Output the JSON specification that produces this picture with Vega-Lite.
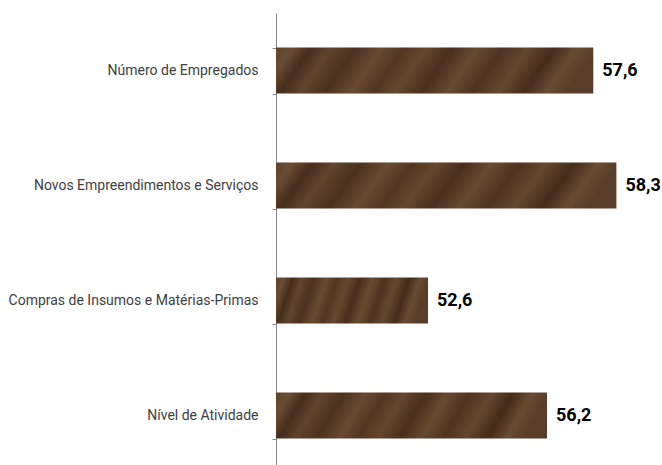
{
  "$schema": "https://vega.github.io/schema/vega-lite/v6.json",
  "autosize": {"type": "none"},
  "width": 386,
  "height": 452,
  "padding": {"left": 276, "top": 13, "right": 0, "bottom": 0},
  "background": "white",
  "config": {
    "view": {"stroke": null},
    "locale": {"number": {"decimal": ",", "thousands": ".", "grouping": [3], "currency": ["R$", ""]}}
  },
  "data": {
    "values": [
      {"categoria": "Número de Empregados", "valor": 57.6},
      {"categoria": "Novos Empreendimentos e Serviços", "valor": 58.3},
      {"categoria": "Compras de Insumos e Matérias-Primas", "valor": 52.6},
      {"categoria": "Nível de Atividade", "valor": 56.2}
    ]
  },
  "encoding": {
    "y": {
      "field": "categoria",
      "type": "nominal",
      "sort": null,
      "title": null,
      "scale": {"range": [0, 460], "paddingInner": 0.6, "paddingOuter": 0.3},
      "axis": {
        "tickBand": "extent",
        "domainColor": "#868686",
        "tickColor": "#868686",
        "tickSize": 4,
        "labelPadding": 14,
        "labelFont": "Roboto, sans-serif",
        "labelFontSize": 14,
        "labelColor": "#404040",
        "labelLimit": 300
      }
    }
  },
  "layer": [
    {
      "mark": {
        "type": "bar",
        "fill": {
          "gradient": "linear",
          "x1": 0, "y1": 0, "x2": 1, "y2": 0.1,
          "stops": [
            {"offset": 0, "color": "#5e412b"},
            {"offset": 0.05, "color": "#6a4d34"},
            {"offset": 0.11, "color": "#482c1b"},
            {"offset": 0.17, "color": "#61442d"},
            {"offset": 0.25, "color": "#4c311e"},
            {"offset": 0.33, "color": "#684a32"},
            {"offset": 0.4, "color": "#533622"},
            {"offset": 0.47, "color": "#65472e"},
            {"offset": 0.55, "color": "#4a2e1c"},
            {"offset": 0.63, "color": "#674a31"},
            {"offset": 0.71, "color": "#4f3320"},
            {"offset": 0.79, "color": "#64472e"},
            {"offset": 0.87, "color": "#462b1a"},
            {"offset": 0.94, "color": "#684b32"},
            {"offset": 1, "color": "#5a3d28"}
          ]
        }
      },
      "encoding": {
        "x": {"field": "valor", "type": "quantitative", "scale": {"domain": [48, 59.68], "zero": false, "nice": false}, "axis": null},
        "x2": {"datum": 48}
      }
    },
    {
      "mark": {
        "type": "text",
        "align": "left",
        "baseline": "middle",
        "dx": 9,
        "font": "Roboto, sans-serif",
        "fontSize": 18,
        "fontWeight": "bold",
        "color": "#000000"
      },
      "encoding": {
        "x": {"field": "valor", "type": "quantitative"},
        "text": {"field": "valor", "type": "quantitative", "format": ".1f"}
      }
    }
  ]
}
